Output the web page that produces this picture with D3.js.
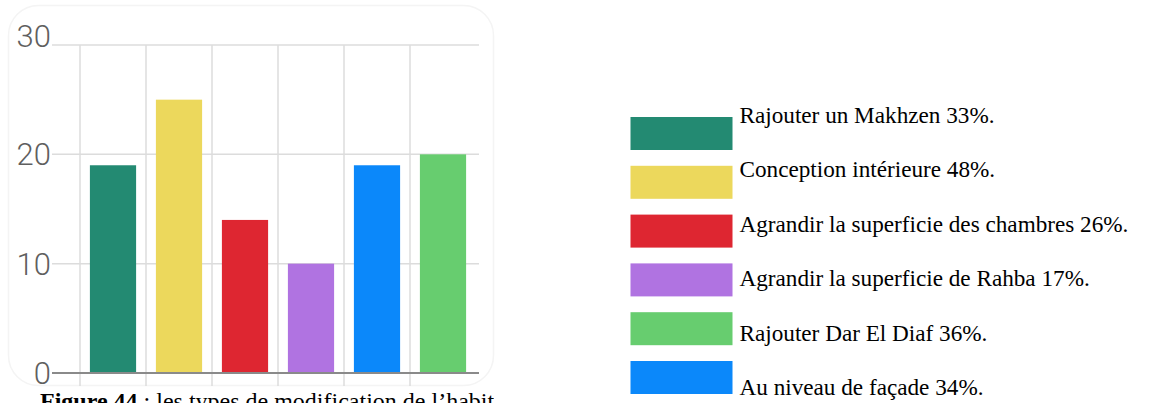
<!DOCTYPE html>
<html>
<head>
<meta charset="utf-8">
<script src="https://cdn.jsdelivr.net/npm/d3@7"></script>
<style>
  html, body { margin: 0; padding: 0; background: #fff; }
  svg { display: block; }
</style>
</head>
<body>
<svg id="chart" width="1160" height="403"></svg>
<script>
// ---- data ----
const categories = ["Rajouter un Makhzen", "Conception intérieure", "Agrandir la superficie des chambres", "Agrandir la superficie de Rahba", "Au niveau de façade", "Rajouter Dar El Diaf"];
const values = [19, 25, 14, 10, 19, 20];
const barColors = ["#238a72", "#ecd85c", "#de2631", "#b073e1", "#0b88fa", "#67cd6f"];
const yTicks = [0, 10, 20, 30];
const legendLabels = ["Rajouter un Makhzen 33%.", "Conception intérieure 48%.", "Agrandir la superficie des chambres 26%.", "Agrandir la superficie de Rahba 17%.", "Rajouter Dar El Diaf 36%.", "Au niveau de façade 34%."];
const legendColors = ["#238a72", "#ecd85c", "#de2631", "#b073e1", "#67cd6f", "#0b88fa"];
const captionBold = "Figure 44";
const captionRest = " : les types de modification de l\u2019habitat";

const svg = d3.select("#chart");

// card background
svg.append("rect")
  .attr("x", 8.5).attr("y", 5.5).attr("width", 485).attr("height", 380)
  .attr("rx", 30).attr("ry", 30)
  .attr("fill", "#fff").attr("stroke", "#f4f4f4").attr("stroke-width", 1.5);

const y = d3.scaleLinear().domain([0, 30]).range([373, 45]);
const x = d3.scaleBand().domain(categories).range([80, 476]).padding(0);
const gridRight = 479, gridLeft = 52;

// vertical gridlines at band starts
svg.append("g").selectAll("line").data(categories).join("line")
  .attr("x1", d => x(d)).attr("x2", d => x(d))
  .attr("y1", y(30)).attr("y2", y(0) + 13)
  .attr("stroke", "#dcdcdc").attr("stroke-width", 1.5);

// horizontal gridlines
svg.append("g").selectAll("line").data(yTicks.filter(t => t > 0)).join("line")
  .attr("x1", gridLeft).attr("x2", gridRight)
  .attr("y1", d => y(d)).attr("y2", d => y(d))
  .attr("stroke", "#dcdcdc").attr("stroke-width", 1.5);

// bars
const bw = x.step() * 0.7;
svg.append("g").selectAll("rect").data(values).join("rect")
  .attr("x", (d, i) => x(categories[i]) + (x.step() - bw) / 2)
  .attr("width", bw)
  .attr("y", d => y(d))
  .attr("height", d => y(0) - y(d))
  .attr("fill", (d, i) => barColors[i]);

// baseline
svg.append("line")
  .attr("x1", gridLeft).attr("x2", gridRight)
  .attr("y1", y(0)).attr("y2", y(0))
  .attr("stroke", "#8a8a8a").attr("stroke-width", 2);

// y labels
svg.append("g").selectAll("text").data(yTicks).join("text")
  .attr("x", 51)
  .attr("y", d => d === 30 ? y(d) + 2 : y(d) + 11)
  .attr("text-anchor", "end")
  .attr("font-family", "Roboto, sans-serif")
  .attr("font-weight", 300)
  .attr("font-size", 31)
  .attr("fill", "#5f5f5f")
  .text(d => d);

// legend
const ly = d3.scaleLinear().domain([0, 5]).range([122.7, 395]);
const sy = d3.scaleLinear().domain([0, 5]).range([117, 361]);
const lg = svg.append("g");
lg.selectAll("rect").data(legendColors).join("rect")
  .attr("x", 630.5).attr("width", 102)
  .attr("y", (d, i) => sy(i)).attr("height", 33)
  .attr("fill", d => d);
lg.selectAll("text").data(legendLabels).join("text")
  .attr("x", 739.5)
  .attr("y", (d, i) => ly(i))
  .attr("font-family", "'Liberation Serif', 'Times New Roman', serif")
  .attr("font-size", 23.2)
  .attr("fill", "#000")
  .text(d => d);

// caption (clipped at the bottom and right like the reference crop)
svg.append("clipPath").attr("id", "capclip")
  .append("rect").attr("x", 0).attr("y", 0).attr("width", 494).attr("height", 403);
const cap = svg.append("text")
  .attr("clip-path", "url(#capclip)")
  .attr("x", 40).attr("y", 409)
  .attr("font-family", "'Liberation Serif', 'Times New Roman', serif")
  .attr("font-size", 24)
  .attr("fill", "#000");
cap.append("tspan").attr("font-weight", "bold").text(captionBold);
cap.append("tspan").text(captionRest);
</script>
</body>
</html>
